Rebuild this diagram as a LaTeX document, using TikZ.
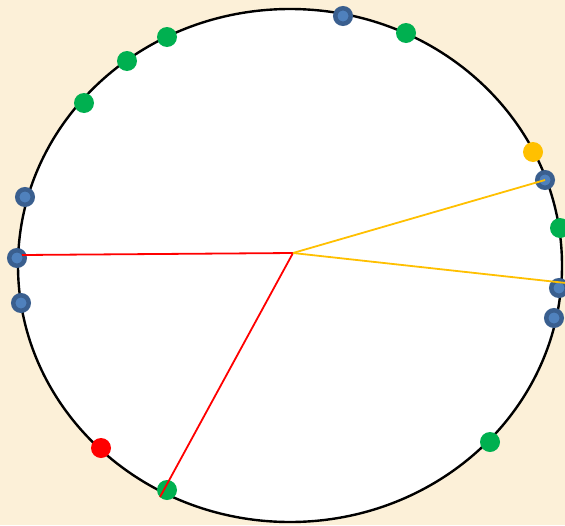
\documentclass[tikz,border=0pt]{standalone}
\usetikzlibrary{calc}
\definecolor{bgc}{HTML}{FCF0D8}
\definecolor{gdot}{HTML}{00B050}
\definecolor{ydot}{HTML}{FFC000}
\definecolor{rdot}{HTML}{FF0000}
\definecolor{bring}{HTML}{3A5F8F}
\definecolor{binner}{HTML}{4F81BD}
\tikzset{
  gd/.style={circle,fill=gdot,inner sep=0pt,minimum size=20pt},
  yd/.style={circle,fill=ydot,inner sep=0pt,minimum size=20pt},
  rd/.style={circle,fill=rdot,inner sep=0pt,minimum size=20pt},
  bd/.style={circle,fill=binner,draw=bring,line width=4.5pt,inner sep=0pt,minimum size=15.5pt},
  redline/.style={draw=rdot,line width=1.8pt},
  yelline/.style={draw=ydot,line width=1.8pt}
}
\begin{document}
\begin{tikzpicture}[x=1pt,y=-1pt]
\fill[bgc] (0,0) rectangle (565,525);
\useasboundingbox (0,0) rectangle (565,525);
\draw[fill=white,line width=2.4pt] (290,265.5) ellipse [x radius=272, y radius=256.5];
% dots
\node[gd] (g1) at (84,103) {};
\node[gd] (g2) at (127,61) {};
\node[gd] (g3) at (167,37) {};
\node[bd] (b1) at (343,16) {};
\node[gd] (g4) at (406,33) {};
\node[yd] (y1) at (533,152) {};
\node[bd] (b2) at (545,180) {};
\node[gd] (g5) at (560,228) {};
\node[bd] (b3) at (559,288) {};
\node[bd] (b4) at (554,318) {};
\node[bd] (b5) at (25,197) {};
\node[bd] (b6) at (17,258) {};
\node[bd] (b7) at (21,303) {};
\node[rd] (r1) at (101,448) {};
\node[gd] (g6) at (167,490) {};
\node[gd] (g7) at (490,442) {};
% lines
\coordinate (c) at (293,253);
\coordinate (ye) at (566,283);
\coordinate (re) at (160,497);
\coordinate (rl) at (22,255);
\draw[redline] (c) -- (rl);
\draw[redline] (c) -- (re);
\draw[yelline] (c) -- (b2.center);
\draw[yelline] (c) -- (ye);
\end{tikzpicture}
\end{document}
